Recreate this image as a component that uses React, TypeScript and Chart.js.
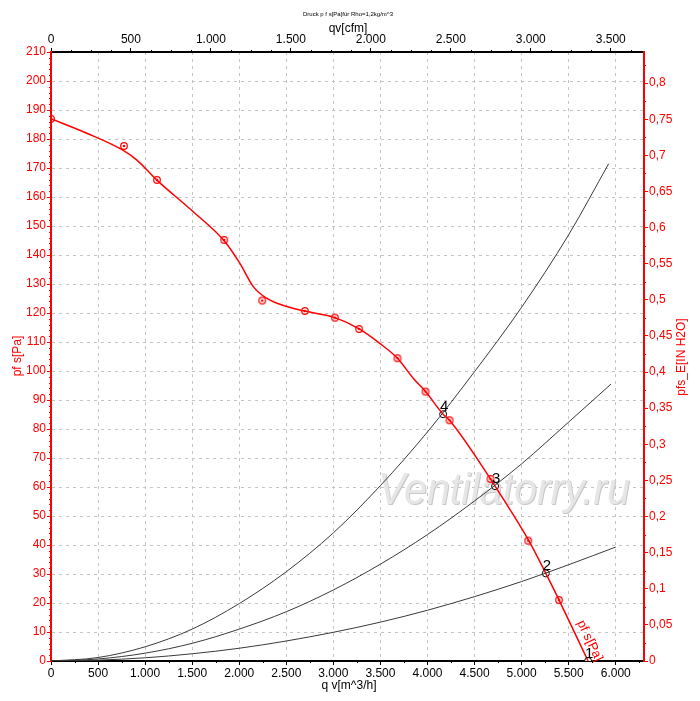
import React, { useEffect, useRef } from "react";
import { Chart, registerables } from "chart.js";

Chart.register(...registerables);

// fan curve p_fs over q_v (m^3/h, Pa)
const fanQ = [0, 380, 750, 910, 1122, 1511, 1848, 2007, 2149, 2290, 2432, 2644, 3016, 3274, 3493, 3681, 3848, 3979, 4166, 4234, 4669, 4718, 5076, 5257, 5398, 5706];
const fanP = [187, 182, 176.4, 172.8, 165.9, 154.9, 144.6, 137.1, 129.1, 125.1, 123, 121, 118.4, 114.5, 109.5, 104.4, 97.5, 92.9, 85.1, 83, 62.8, 60.3, 41.5, 30.2, 21, 0];

// measured points (red markers)
const measQ = [0, 775, 1126, 1840, 2244, 2697, 3016, 3274, 3681, 3979, 4234, 4669, 5070, 5398];
const measP = [187, 177.6, 165.9, 145.2, 124.3, 120.7, 118.4, 114.5, 104.4, 92.9, 83.0, 62.8, 41.5, 21.0];

// system curves
const sysAQ = [0, 500, 1000, 1500, 2000, 2500, 3000, 3500, 4000, 4500, 5000, 5500, 5925];
const sysAP = [0, 1.2, 4.9, 11, 19.8, 30.8, 44.2, 60.5, 79, 99.8, 122, 147, 171.5];
const sysBQ = [0, 500, 1000, 1500, 2000, 2500, 3000, 3500, 4000, 4500, 5000, 5500, 5950];
const sysBP = [0, 0.7, 2.7, 6.1, 11, 17, 24.5, 33.4, 43.6, 55.2, 68, 82.4, 95.5];
const sysCQ = [0, 500, 1000, 1500, 2000, 2500, 3000, 3500, 4000, 4500, 5000, 5500, 6000];
const sysCP = [0, 0.3, 1.1, 2.5, 4.4, 6.9, 9.9, 13.4, 17.5, 22.2, 27.4, 33.2, 39.3];

// operating points
const opQ = [5706, 5257, 4718, 4166];
const opP = [0, 30.2, 60.3, 85.1];
const opLabels = ["1", "2", "3", "4"];

// tick values
const qTicks = [0, 500, 1000, 1500, 2000, 2500, 3000, 3500, 4000, 4500, 5000, 5500, 6000];
const cfmTicks = [0, 500, 1000, 1500, 2000, 2500, 3000, 3500];

const Q_MAX = 6300;
const P_MAX = 210;
const CFM_PER_M3H = 0.58858;
const PA_PER_INH2O = 249.089;

const FONT = "'Liberation Sans', Arial, sans-serif";
const RED = "#ff0000";

const pts = (xs: number[], ys: number[]) => xs.map((x, i) => ({ x, y: ys[i] }));
const thousands = (v: number) => String(Math.round(v)).replace(/\B(?=(\d{3})+(?!\d))/g, ".");
const comma = (v: number) => (v === 0 ? "0" : String(Math.round(v * 100) / 100).replace(".", ","));

const minorTicks = (ctx: CanvasRenderingContext2D, scale: any, step: number, major: number, side: string, len: number, color: string) => {
	ctx.save();
	ctx.strokeStyle = color;
	ctx.lineWidth = 1;
	ctx.beginPath();
	for (let v = 0; v <= scale.max + 1e-9; v += step) {
		const r = v / major;
		if (Math.abs(r - Math.round(r)) < 1e-6) continue;
		const p = Math.round(scale.getPixelForValue(v)) + 0.5;
		if (side === "left") { ctx.moveTo(scale.right - len, p); ctx.lineTo(scale.right, p); }
		if (side === "right") { ctx.moveTo(scale.left, p); ctx.lineTo(scale.left + len, p); }
		if (side === "bottom") { ctx.moveTo(p, scale.top); ctx.lineTo(p, scale.top + len); }
		if (side === "top") { ctx.moveTo(p, scale.bottom); ctx.lineTo(p, scale.bottom - len); }
	}
	ctx.stroke();
	ctx.restore();
};

const decor = {
	id: "decor",
	beforeDatasetsDraw(chart: any) {
		const ctx = chart.ctx as CanvasRenderingContext2D;
		ctx.save();
		ctx.font = `italic 44px ${FONT}`;
		ctx.textBaseline = "alphabetic";
		ctx.textAlign = "left";
		ctx.fillStyle = "#c8c8c8";
		ctx.fillText("Ventilatorry.ru", 379, 505, 252);
		ctx.fillStyle = "#e6e6e6";
		ctx.fillText("Ventilatorry.ru", 378, 504, 252);
		ctx.restore();
	},
	afterDatasetsDraw(chart: any) {
		const ctx = chart.ctx as CanvasRenderingContext2D;
		const xs = chart.scales.x;
		const ys = chart.scales.y;
		ctx.save();
		ctx.fillStyle = "#000";
		ctx.font = `15px ${FONT}`;
		ctx.textAlign = "center";
		ctx.textBaseline = "alphabetic";
		opQ.forEach((q, i) => {
			const px = xs.getPixelForValue(q);
			const py = ys.getPixelForValue(opP[i]);
			ctx.fillText(opLabels[i], px + 1, py - 3);
		});
		// label along the fan curve
		const n = fanQ.length;
		const x1 = xs.getPixelForValue(fanQ[n - 2]);
		const y1 = ys.getPixelForValue(fanP[n - 2]);
		const x2 = xs.getPixelForValue(fanQ[n - 1]);
		const y2 = ys.getPixelForValue(fanP[n - 1]);
		const ang = Math.atan2(y2 - y1, x2 - x1);
		const t = 0.74;
		const cx = x1 + (x2 - x1) * t + Math.sin(ang) * 10;
		const cy = y1 + (y2 - y1) * t - Math.cos(ang) * 10;
		ctx.translate(cx, cy);
		ctx.rotate(ang);
		ctx.fillStyle = RED;
		ctx.font = `13px ${FONT}`;
		ctx.textBaseline = "middle";
		ctx.fillText("pf s[Pa]", 0, 0);
		ctx.restore();
	},
	afterDraw(chart: any) {
		const ctx = chart.ctx as CanvasRenderingContext2D;
		const { x, x2, y, y2 } = chart.scales;
		minorTicks(ctx, y, 2, 10, "left", 2, RED);
		minorTicks(ctx, y2, 0.025, 0.05, "right", 2, RED);
		minorTicks(ctx, x, 250, 500, "bottom", 2, "#000");
		minorTicks(ctx, x2, 125, 500, "top", 2, "#000");

		ctx.save();
		ctx.textAlign = "center";
		ctx.textBaseline = "middle";
		ctx.fillStyle = "#000";
		ctx.font = `6px ${FONT}`;
		ctx.fillText("Druck p f s[Pa]für Rho=1,2kg/m^3", 348, 14);
		ctx.font = `12px ${FONT}`;
		ctx.fillText("qv[cfm]", 348, 29);
		ctx.fillText("q v[m^3/h]", 349, 686);

		ctx.fillStyle = RED;
		ctx.save();
		ctx.translate(18, 356);
		ctx.rotate(-Math.PI / 2);
		ctx.fillText("pf s[Pa]", 0, 0);
		ctx.restore();
		ctx.save();
		ctx.translate(682, 357);
		ctx.rotate(-Math.PI / 2);
		ctx.fillText("pfs_E[IN H2O]", 0, 0);
		ctx.restore();
		ctx.restore();
	},
};

const App: React.FC = () => {
	const chartRef = useRef<HTMLCanvasElement | null>(null);

	useEffect(() => {
		if (!chartRef.current) return;
		const ctx = chartRef.current.getContext("2d");
		if (!ctx) return;

		const marker = document.createElement("canvas");
		marker.width = 10;
		marker.height = 10;
		const mc = marker.getContext("2d");
		if (mc) {
			mc.strokeStyle = RED;
			mc.lineWidth = 1.2;
			mc.beginPath();
			mc.arc(5, 5, 3.3, 0, Math.PI * 2);
			mc.stroke();
			mc.fillStyle = RED;
			mc.beginPath();
			mc.arc(5, 5, 1.3, 0, Math.PI * 2);
			mc.fill();
		}

		const tickFont = { family: FONT, size: 12 };
		const sys = (data: { x: number; y: number }[]) => ({
			data,
			borderColor: "#3a3a3a",
			borderWidth: 1,
			pointRadius: 0,
			cubicInterpolationMode: "monotone" as const,
			xAxisID: "x",
			yAxisID: "y",
		});

		const chartInstance = new Chart(ctx, {
			type: "line",
			data: {
				datasets: [
					sys(pts(sysAQ, sysAP)),
					sys(pts(sysBQ, sysBP)),
					sys(pts(sysCQ, sysCP)),
					{
						data: pts(fanQ, fanP),
						borderColor: RED,
						borderWidth: 1.5,
						pointRadius: 0,
						cubicInterpolationMode: "monotone",
						xAxisID: "x",
						yAxisID: "y",
					},
					{
						data: pts(measQ, measP),
						showLine: false,
						pointStyle: marker,
						pointRadius: 4,
						xAxisID: "x",
						yAxisID: "y",
					},
					{
						data: pts(opQ, opP),
						showLine: false,
						pointStyle: "circle",
						pointRadius: 3.5,
						pointBorderWidth: 1,
						pointBorderColor: "#000",
						pointBackgroundColor: "#fff",
						xAxisID: "x",
						yAxisID: "y",
					},
				],
			},
			options: {
				animation: false,
				responsive: true,
				maintainAspectRatio: false,
				layout: { padding: 0 },
				plugins: { legend: { display: false }, tooltip: { enabled: false } },
				scales: {
					x: {
						type: "linear",
						position: "bottom",
						min: 0,
						max: Q_MAX,
						afterFit: (s: any) => { s.height = 40; },
						afterBuildTicks: (s: any) => { s.ticks = qTicks.map((value) => ({ value })); },
						ticks: { color: "#000", font: tickFont, padding: 1, maxRotation: 0, autoSkip: false, callback: (v: any) => thousands(Number(v)) },
						grid: { color: "#c4c4c4", tickColor: "#000", tickLength: 4 },
						border: { color: "#000", width: 2, dash: [3, 4] },
					},
					x2: {
						type: "linear",
						position: "top",
						min: 0,
						max: Q_MAX * CFM_PER_M3H,
						afterFit: (s: any) => { s.height = 52; },
						afterBuildTicks: (s: any) => { s.ticks = cfmTicks.map((value) => ({ value })); },
						ticks: { color: "#000", font: tickFont, padding: 1, maxRotation: 0, autoSkip: false, callback: (v: any) => thousands(Number(v)) },
						grid: { drawOnChartArea: false, tickColor: "#000", tickLength: 4 },
						border: { color: "#000", width: 2 },
					},
					y: {
						type: "linear",
						position: "left",
						min: 0,
						max: P_MAX,
						afterFit: (s: any) => { s.width = 51; },
						ticks: { stepSize: 10, includeBounds: false, color: RED, font: tickFont, padding: 1, autoSkip: false },
						grid: { color: "#c4c4c4", tickColor: RED, tickLength: 4 },
						border: { color: RED, width: 2, dash: [3, 4] },
					},
					y2: {
						type: "linear",
						position: "right",
						min: 0,
						max: P_MAX / PA_PER_INH2O,
						afterFit: (s: any) => { s.width = 56; },
						ticks: { stepSize: 0.05, includeBounds: false, color: RED, font: tickFont, padding: 1, autoSkip: false, callback: (v: any) => comma(Number(v)) },
						grid: { drawOnChartArea: false, tickColor: RED, tickLength: 4 },
						border: { color: RED, width: 2 },
					},
				},
			},
			plugins: [decor],
		});

		return () => {
			chartInstance.destroy();
		};
	}, []);

	return (
		<div style={{ position: "absolute", left: 0, top: 0, width: 700, height: 701, background: "#fff" }}>
			<canvas ref={(ref) => (chartRef.current = ref)} />
		</div>
	);
};

export default App;
